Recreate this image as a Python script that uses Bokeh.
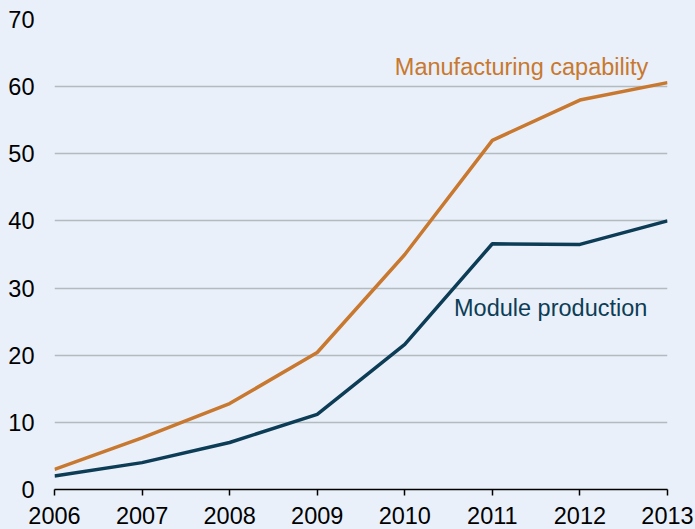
from bokeh.plotting import figure
from bokeh.models import Range1d, Label, FixedTicker
from bokeh.embed import file_html
from bokeh.resources import INLINE

years = [2006, 2007, 2008, 2009, 2010, 2011, 2012, 2013]
manufacturing = [3.0, 7.7, 12.8, 20.4, 35.0, 52.0, 58.0, 60.6]
module = [2.0, 4.0, 7.0, 11.2, 21.6, 36.6, 36.5, 40.0]
y_ticks = [0, 10, 20, 30, 40, 50, 60, 70]

BG = "#e9f0f9"
ORANGE = "#c8782f"
NAVY = "#0d3d56"
FONT = "Liberation Sans"
FS = "23.5px"

p = figure(width=695, height=529, output_backend="svg", toolbar_location=None,
           x_range=Range1d(2006, 2013), y_range=Range1d(0, 70),
           min_border_left=54, min_border_right=28, min_border_top=19, min_border_bottom=40)
p.background_fill_color = BG
p.border_fill_color = BG
p.outline_line_color = None

p.xgrid.grid_line_color = None
p.ygrid.grid_line_color = "#b5bac0"
p.ygrid.grid_line_width = 1.5
p.ygrid.ticker = FixedTicker(ticks=y_ticks)

p.xaxis.ticker = FixedTicker(ticks=years)
p.xaxis.axis_line_color = "black"
p.xaxis.axis_line_width = 1.5
p.xaxis.major_tick_line_color = "black"
p.xaxis.major_tick_line_width = 1.5
p.xaxis.major_tick_out = 6
p.xaxis.major_tick_in = 0
p.xaxis.minor_tick_line_color = None
p.xaxis.major_label_standoff = 11
p.xaxis.major_label_text_font = FONT
p.xaxis.major_label_text_font_size = FS
p.xaxis.major_label_text_color = "black"

p.yaxis.ticker = FixedTicker(ticks=y_ticks)
p.yaxis.axis_line_color = None
p.yaxis.major_tick_line_color = None
p.yaxis.minor_tick_line_color = None
p.yaxis.major_tick_out = 0
p.yaxis.major_tick_in = 0
p.yaxis.major_label_standoff = 20
p.yaxis.major_label_text_font = FONT
p.yaxis.major_label_text_font_size = FS
p.yaxis.major_label_text_color = "black"

p.line(years, manufacturing, line_color=ORANGE, line_width=3.5)
p.line(years, module, line_color=NAVY, line_width=3.5)

p.add_layout(Label(x=2012.78, y=62.9, text="Manufacturing capability", text_align="right",
                   text_baseline="middle", text_font=FONT, text_font_size=FS,
                   text_color=ORANGE))
p.add_layout(Label(x=2012.77, y=27.0, text="Module production", text_align="right",
                   text_baseline="middle", text_font=FONT, text_font_size=FS,
                   text_color=NAVY))

html = file_html(p, INLINE)
html = html.replace("</head>", "<style>html,body{background:%s;overflow:hidden;}</style></head>" % BG, 1)
open("out.html", "w").write(html)
